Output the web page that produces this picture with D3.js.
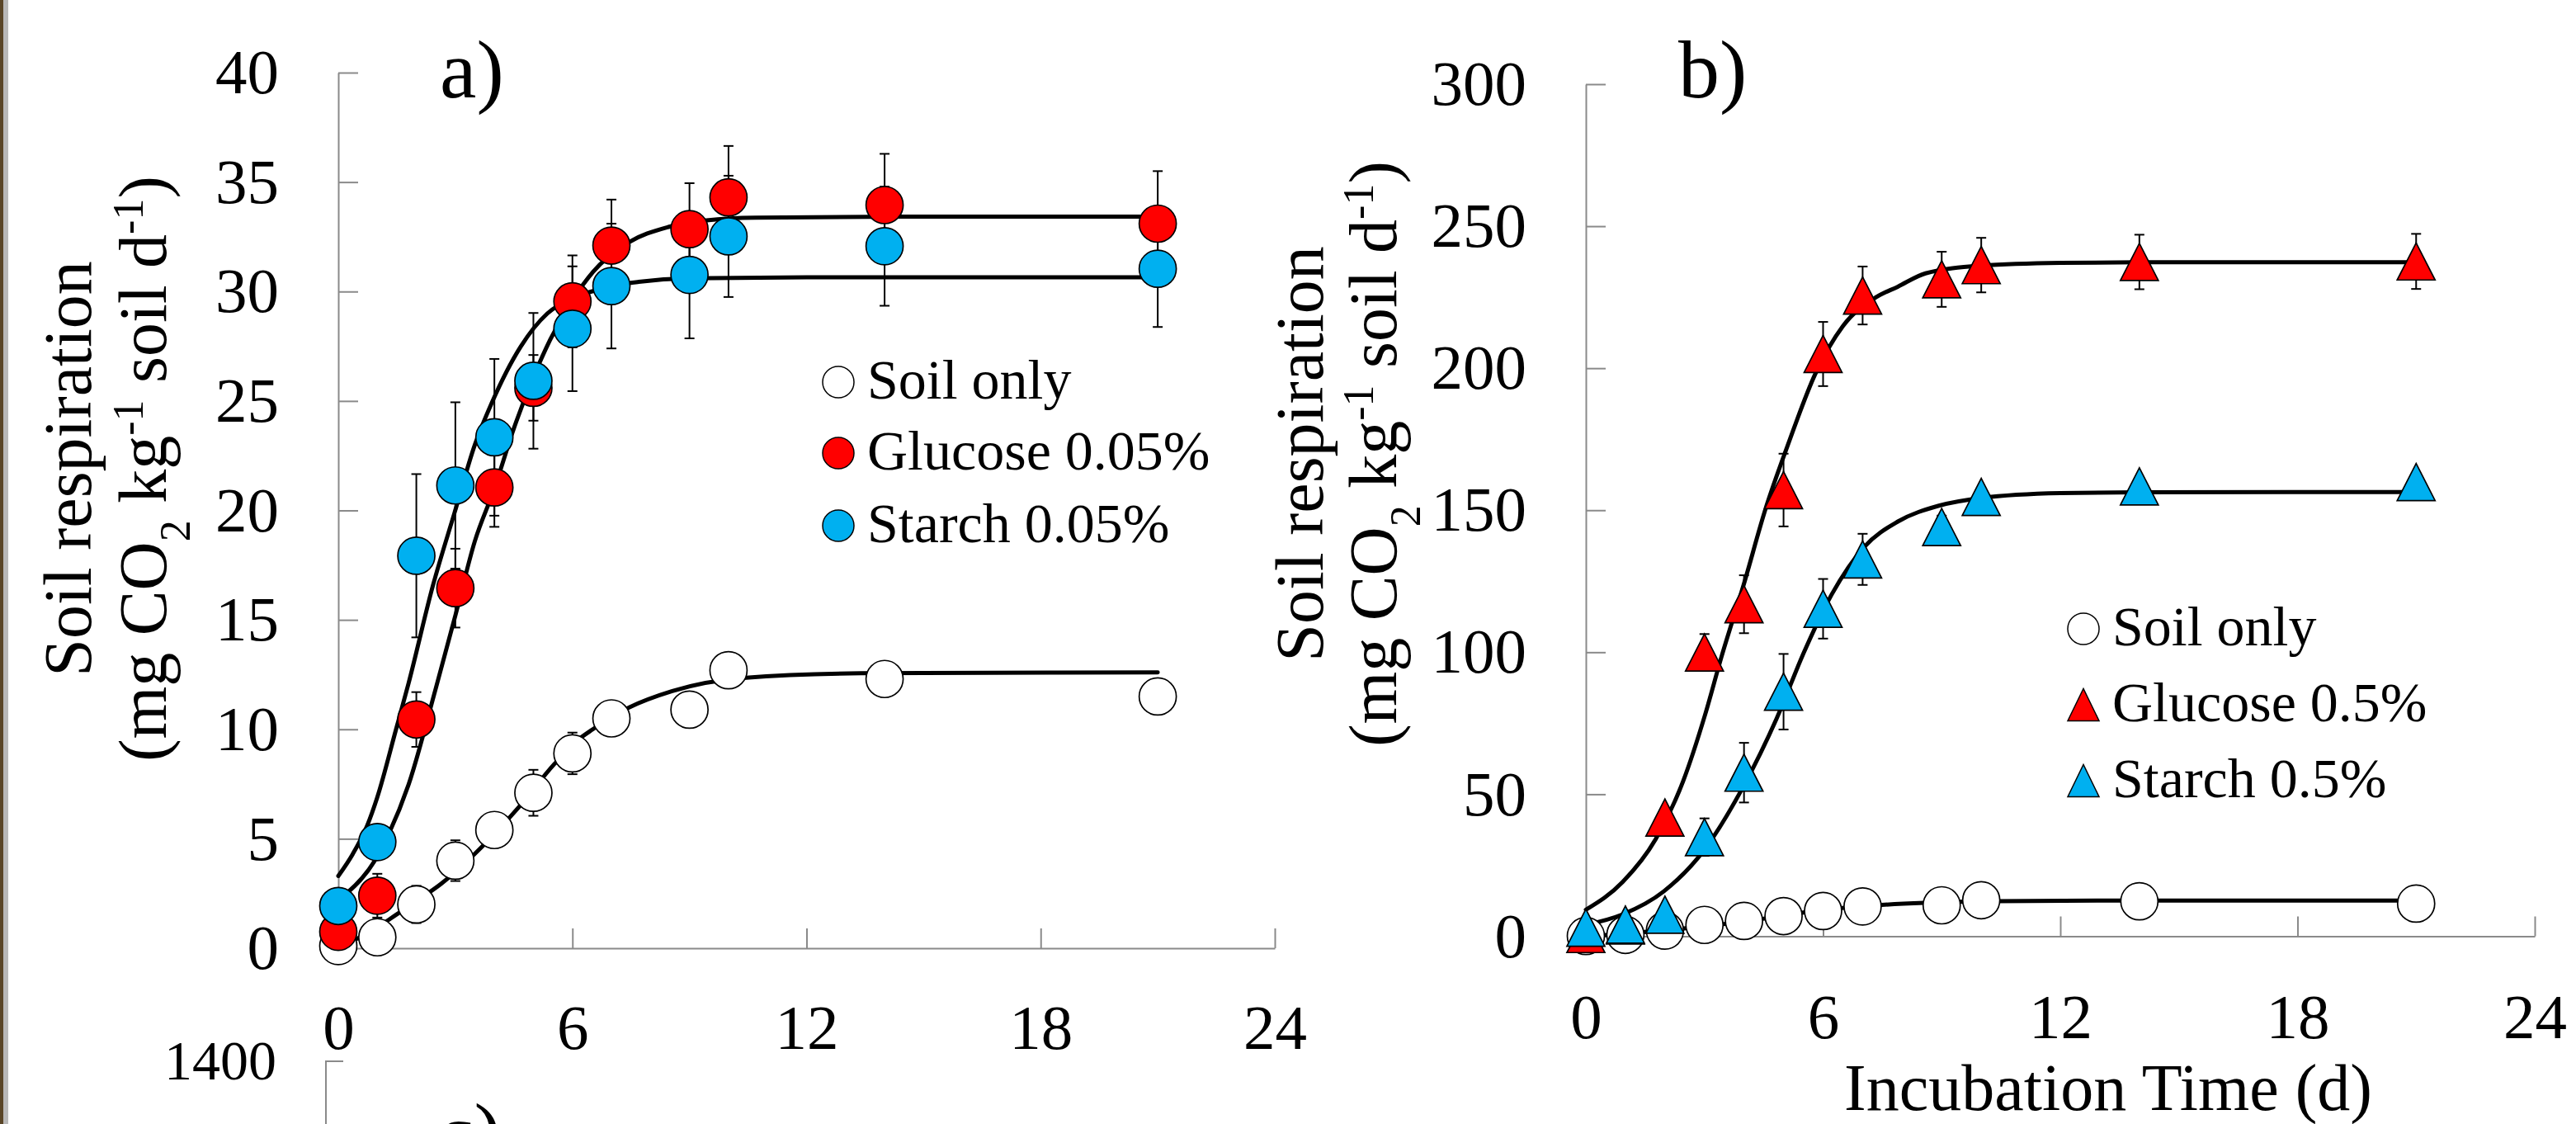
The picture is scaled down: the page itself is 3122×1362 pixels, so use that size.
<!DOCTYPE html>
<html>
<head>
<meta charset="utf-8">
<title>Soil respiration</title>
<script src="https://d3js.org/d3.v7.min.js"></script>
<style>
  body { margin: 0; background: #fff; }
  svg text { font-family: "Liberation Serif", "Times New Roman", serif; fill: #000; }
</style>
</head>
<body>
<svg id="chart" width="3122" height="1362"></svg>
<script>
// sampling days (d)
var days = [0, 1, 2, 3, 4, 5, 6, 7, 9, 10, 14, 21];

// panel a : 0.05 % additions
var soilOnly    = [0.1, 0.5, 2.0, 4.0, 5.4, 7.1, 8.9, 10.5, 10.9, 12.7, 12.3, 11.5];
var soilOnlyErr = [0.3, 0.4, 0.85, 0.93, 0.5, 1.05, 0.95, 0.5, 0.5, 0.5, 0.5, 0.5];
var glucoseA    = [0.75, 2.4, 10.45, 16.45, 21.05, 25.6, 29.55, 32.1, 32.85, 34.3, 33.95, 33.1];
var glucoseAErr = [0.3, 1.0, 1.25, 1.8, 1.8, 1.5, 2.1, 2.1, 2.1, 2.35, 2.34, 2.4];
var starchA     = [1.93, 4.85, 17.93, 21.14, 23.34, 25.92, 28.3, 30.25, 30.76, 32.52, 32.07, 31.04];
var starchAErr  = [0.3, 0.4, 3.73, 3.8, 3.58, 3.1, 2.85, 2.85, 2.9, 2.77, 2.72, 2.66];

// panel b : 0.5 % additions
var glucoseB    = [0.8, 3.8, 41.8, 99.9, 116.9, 157.1, 205.0, 225.6, 231.3, 236.3, 237.4, 237.6];
var glucoseBErr = [1, 2, 3, 6.5, 10.2, 12.8, 11.3, 10.2, 9.7, 9.6, 9.6, 9.7];
var starchB     = [3.0, 4.1, 7.6, 34.9, 57.6, 86.1, 115.3, 132.7, 144.1, 154.7, 158.4, 159.9];
var starchBErr  = [1, 1, 1.5, 6.6, 10.5, 13.3, 10.5, 9.0, 4, 3, 3, 3];

// fitted curves
var fitSoilT  = [0, 0.5, 1, 1.5, 2, 2.64, 3.49, 4.62, 5.53, 6.13, 6.52, 7.34, 8.56, 10.38, 13.4, 21];
var fitSoilV  = [0.1, 0.45, 0.95, 1.55, 2.15, 2.95, 4.3, 6.43, 8.4, 9.5, 10.0, 10.9, 11.75, 12.35, 12.56, 12.6];
var fitGlcAT  = [0, 0.21, 0.92, 1.3, 1.8, 2.5, 3.0, 3.5, 4.0, 4.49, 4.98, 5.43, 6.0, 6.53, 7.4, 8.46, 9.44, 10.7, 15, 21];
var fitGlcAV  = [2.2, 2.5, 3.96, 5.25, 7.47, 11.88, 15.2, 18.6, 21.0, 23.7, 26.0, 27.8, 29.6, 30.9, 32.2, 32.95, 33.25, 33.37, 33.42, 33.42];
var fitStaAT  = [0, 0.37, 0.74, 1.0, 1.48, 1.8, 2.43, 2.98, 3.5, 3.93, 4.68, 5.36, 6.0, 6.49, 7.0, 7.7, 8.98, 12, 21];
var fitStaAV  = [3.3, 4.3, 5.6, 6.9, 10.0, 12.1, 16.6, 19.9, 23.0, 24.9, 27.5, 29.0, 29.7, 30.0, 30.25, 30.44, 30.6, 30.65, 30.65];
var fitGlcBT  = [0, 0.93, 1.77, 2.46, 3.02, 3.43, 3.99, 4.55, 5.1, 5.8, 6.5, 7.33, 7.89, 8.59, 10.0, 12, 14, 21];
var fitGlcBV  = [9.35, 19.1, 34.3, 54.6, 78.2, 98.4, 123.7, 150.7, 172.6, 197.9, 214.8, 224.9, 228.7, 233.4, 236.1, 237.1, 237.3, 237.3];
var fitStaBT  = [0, 0.93, 1.97, 3.02, 3.99, 4.82, 5.52, 6.22, 7.05, 7.89, 8.93, 10.0, 12, 14, 21];
var fitStaBV  = [4.0, 7.7, 15.8, 30.9, 52.9, 76.5, 100.1, 120.4, 137.2, 146.0, 151.6, 154.3, 156.0, 156.3, 156.4];

var xTicks  = [0, 6, 12, 18, 24];
var yTicksA = [0, 5, 10, 15, 20, 25, 30, 35, 40];
var yTicksB = [0, 50, 100, 150, 200, 250, 300];

var legendA = ["Soil only", "Glucose 0.05%", "Starch 0.05%"];
var legendB = ["Soil only", "Glucose 0.5%", "Starch 0.5%"];

var RED = "#ff0000", BLUE = "#00b0f0", AXIS = "#8a8a8a";

var svg = d3.select("#chart");

// frame edge on the left
svg.append("rect").attr("x", 0).attr("y", 0).attr("width", 4).attr("height", 1362).attr("fill", "#5a4628");
svg.append("rect").attr("x", 4).attr("y", 0).attr("width", 6).attr("height", 1362).attr("fill", "#b9b9b9");

function styleAxis(g, fs) {
  g.select(".domain").attr("stroke", AXIS).attr("stroke-width", 2);
  g.selectAll(".tick line").attr("stroke", AXIS).attr("stroke-width", 2);
  g.selectAll(".tick text").attr("font-family", "Liberation Serif, serif").attr("font-size", fs).attr("fill", "#000");
}

function triPath(cx, cy, w, h) {
  return "M" + (cx - w / 2) + "," + (cy + h / 2) + "L" + cx + "," + (cy - h / 2) + "L" + (cx + w / 2) + "," + (cy + h / 2) + "Z";
}

function drawPanel(p) {
  var x = p.x, y = p.y;
  var g = svg.append("g");

  var gx = g.append("g").attr("transform", "translate(0," + y(0) + ")")
    .call(d3.axisBottom(x).tickValues(xTicks).tickSizeInner(-24).tickSizeOuter(0).tickPadding(p.xPad));
  styleAxis(gx, 77);
  var gy = g.append("g").attr("transform", "translate(" + x(0) + ",0)")
    .call(d3.axisLeft(y).tickValues(p.yTicks).tickSizeInner(-24).tickSizeOuter(0).tickPadding(72));
  styleAxis(gy, 77);

  var line = d3.line().x(function (d) { return x(d[0]); }).y(function (d) { return y(d[1]); }).curve(d3.curveMonotoneX);
  p.fits.forEach(function (f) {
    g.append("path").datum(d3.zip(f[0], f[1])).attr("d", line)
      .attr("fill", "none").attr("stroke", "#000").attr("stroke-width", 5).attr("stroke-linecap", "round");
  });

  // error bars under all markers
  p.series.forEach(function (s) {
    days.forEach(function (t, i) {
      var lo = y(s.v[i] - s.e[i]), hi = y(s.v[i] + s.e[i]), cx = x(t);
      g.append("line").attr("x1", cx).attr("x2", cx).attr("y1", lo).attr("y2", hi).attr("stroke", "#000").attr("stroke-width", 2);
      [lo, hi].forEach(function (yy) {
        g.append("line").attr("x1", cx - 6).attr("x2", cx + 6).attr("y1", yy).attr("y2", yy).attr("stroke", "#000").attr("stroke-width", 2);
      });
    });
  });

  p.series.forEach(function (s) {
    days.forEach(function (t, i) {
      if (s.shape === "tri") {
        g.append("path").attr("d", triPath(x(t), y(s.v[i]), 46, 45))
          .attr("fill", s.fill).attr("stroke", "#000").attr("stroke-width", 1.7);
      } else {
        g.append("circle").attr("cx", x(t)).attr("cy", y(s.v[i])).attr("r", 22.5)
          .attr("fill", s.fill).attr("stroke", "#000").attr("stroke-width", 1.7);
      }
    });
  });

  // y title
  g.append("text").attr("transform", "translate(" + p.titleX[0] + "," + p.titleY + ") rotate(-90)")
    .attr("text-anchor", "middle").attr("font-size", 82).text("Soil respiration");
  var t2 = g.append("text").attr("transform", "translate(" + p.titleX[1] + "," + p.titleY + ") rotate(-90)")
    .attr("text-anchor", "middle").attr("font-size", 82);
  t2.append("tspan").text("(mg CO");
  t2.append("tspan").attr("baseline-shift", "sub").attr("font-size", 52).text("2");
  t2.append("tspan").text(" kg");
  t2.append("tspan").attr("baseline-shift", "super").attr("font-size", 52).text("-1");
  t2.append("tspan").text(" soil d");
  t2.append("tspan").attr("baseline-shift", "super").attr("font-size", 52).text("-1");
  t2.append("tspan").text(")");

  g.append("text").attr("x", p.label[0]).attr("y", p.label[1]).attr("font-size", 100).text(p.labelText);

  // legend
  p.series.forEach(function (s, i) {
    var ly = p.legY[i];
    if (s.shape === "tri") {
      g.append("path").attr("d", triPath(p.legX, ly - 20, 38, 39)).attr("fill", s.fill).attr("stroke", "#000").attr("stroke-width", 1.5);
    } else {
      g.append("circle").attr("cx", p.legX).attr("cy", ly - 20).attr("r", 19).attr("fill", s.fill).attr("stroke", "#000").attr("stroke-width", 1.5);
    }
    g.append("text").attr("x", p.legX + 35).attr("y", ly).attr("font-size", 68).text(p.legend[i]);
  });
}

drawPanel({
  x: d3.scaleLinear().domain([0, 24]).range([410, 1545]),
  y: d3.scaleLinear().domain([0, 40]).range([1149, 88]),
  yTicks: yTicksA, xPad: 67,
  fits: [[fitSoilT, fitSoilV], [fitGlcAT, fitGlcAV], [fitStaAT, fitStaAV]],
  series: [
    { v: soilOnly, e: soilOnlyErr, fill: "#fff", shape: "circle" },
    { v: glucoseA, e: glucoseAErr, fill: RED, shape: "circle" },
    { v: starchA, e: starchAErr, fill: BLUE, shape: "circle" }
  ],
  titleX: [110, 201], titleY: 568,
  label: [533, 118], labelText: "a)",
  legX: 1016, legY: [483, 569, 657], legend: legendA
});

drawPanel({
  x: d3.scaleLinear().domain([0, 24]).range([1922, 3072]),
  y: d3.scaleLinear().domain([0, 300]).range([1134.5, 102]),
  yTicks: yTicksB, xPad: 69,
  fits: [[fitSoilT, fitSoilV], [fitGlcBT, fitGlcBV], [fitStaBT, fitStaBV]],
  series: [
    { v: soilOnly, e: soilOnlyErr, fill: "#fff", shape: "circle" },
    { v: glucoseB, e: glucoseBErr, fill: RED, shape: "tri" },
    { v: starchB, e: starchBErr, fill: BLUE, shape: "tri" }
  ],
  titleX: [1603, 1692], titleY: 550,
  label: [2034, 118], labelText: "b)",
  legX: 2525, legY: [782, 874, 966], legend: legendB
});

svg.append("text").attr("x", 2555).attr("y", 1345).attr("text-anchor", "middle").attr("font-size", 80).text("Incubation Time (d)");

// top of the next panel, cut by the picture edge
svg.append("path").attr("d", "M416,1286H395V1362").attr("fill", "none").attr("stroke", AXIS).attr("stroke-width", 2);
svg.append("text").attr("x", 335).attr("y", 1286).attr("dy", "0.32em").attr("text-anchor", "end").attr("font-size", 68).text("1400");
svg.append("text").attr("x", 530).attr("y", 1406).attr("font-size", 100).text("c)");
</script>
</body>
</html>
